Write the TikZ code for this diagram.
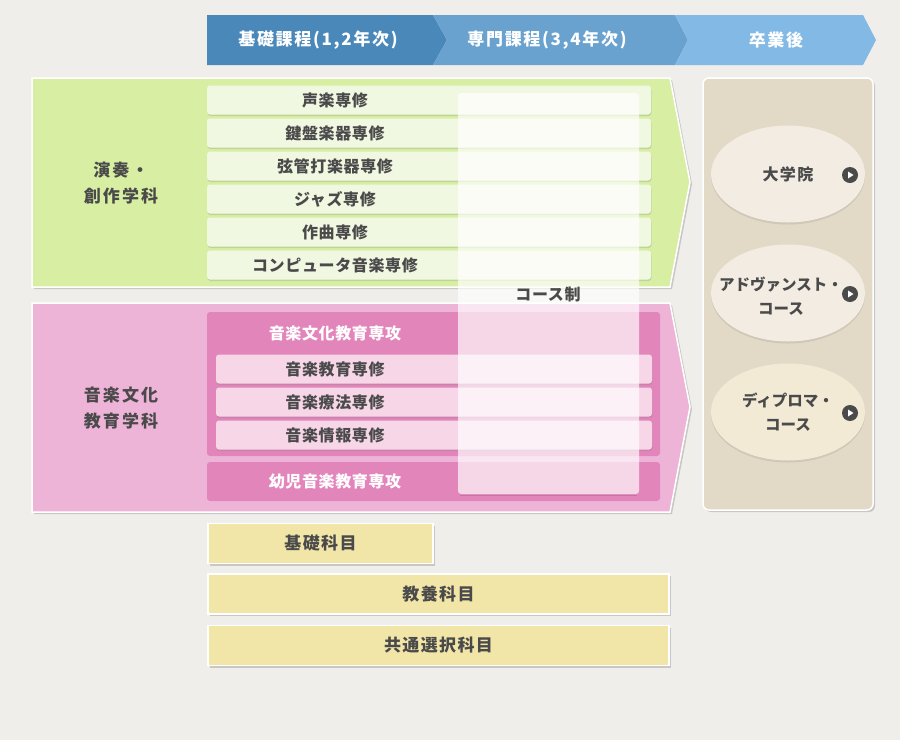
\documentclass[tikz,border=0pt]{standalone}
\usepackage{fontspec}
\setmainfont{Noto Sans CJK JP}
\usetikzlibrary{shadows,shapes.geometric}
\definecolor{bgc}{HTML}{EFEEEA}
\definecolor{hdA}{HTML}{4A88BA}
\definecolor{hdB}{HTML}{6AA2CF}
\definecolor{hdC}{HTML}{83B9E5}
\definecolor{grnpanel}{HTML}{D8EFA3}
\definecolor{grnrow}{HTML}{F1F8E2}
\definecolor{pnkpanel}{HTML}{EEB4D8}
\definecolor{pnkdark}{HTML}{E285BA}
\definecolor{pnkrow}{HTML}{F7D6E8}
\definecolor{tanpanel}{HTML}{E3D9C7}
\definecolor{ovalA}{HTML}{F2ECE2}
\definecolor{ovalB}{HTML}{F3EAD6}
\definecolor{subj}{HTML}{F1E6A8}
\definecolor{txtc}{HTML}{4A4A4A}
\begin{document}
\begin{tikzpicture}[x=1pt,y=-1pt,
  every node/.style={text=txtc,inner sep=0pt},
  hdtxt/.style={text=white,font=\fontsize{17}{20}\selectfont\bfseries\addfontfeature{LetterSpace=10}},
  dept/.style={align=center,font=\fontsize{17}{26}\selectfont\bfseries\addfontfeature{LetterSpace=12}},
  rowtxt/.style={font=\fontsize{16}{19}\selectfont\bfseries\addfontfeature{LetterSpace=4}},
  grnbox/.style={fill=grnrow,rounded corners=3,minimum width=444,minimum height=29,
    drop shadow={shadow xshift=0.5pt,shadow yshift=-1.5pt,opacity=0.25}},
  pnkbox/.style={fill=pnkrow,rounded corners=3,minimum width=436,minimum height=29,
    drop shadow={shadow xshift=0.5pt,shadow yshift=-1.5pt,opacity=0.25}},
  panel/.style={draw=white,line width=1.5pt,drop shadow={shadow xshift=2pt,shadow yshift=-2pt,opacity=0.35}},
  oval/.style={ellipse,minimum width=154,minimum height=97,
    drop shadow={shadow xshift=0pt,shadow yshift=-2pt,opacity=0.2}},
  ovaltxt/.style={align=center,font=\fontsize{15.5}{24}\selectfont\bfseries},
  playbtn/.style={circle,fill=txtc,minimum size=16},
  subjbox/.style={draw=white,line width=1.5pt,fill=subj,minimum height=40,
    font=\fontsize{17}{20}\selectfont\bfseries\addfontfeature{LetterSpace=8},
    drop shadow={shadow xshift=2pt,shadow yshift=-2pt,opacity=0.35}}]
\useasboundingbox[fill=bgc] (0,0) rectangle (900,740);
% header chevrons
\fill[hdA] (207,15) -- (433,15) -- (447,40) -- (433,65) -- (207,65) -- cycle;
\fill[hdB] (433,15) -- (675,15) -- (688,40) -- (675,65) -- (433,65) -- (447,40) -- cycle;
\fill[hdC] (675,15) -- (863,15) -- (876,40) -- (863,65) -- (675,65) -- (688,40) -- cycle;
\node[hdtxt] (kiso) at (318,40) {基礎課程(1,2年次)};
\node[hdtxt] (senmon) at (547,40) {専門課程(3,4年次)};
\node[hdtxt] (sotsu) at (776,40) {卒業後};
% green department
\path[panel,fill=grnpanel] (32,78) -- (670,78) -- (690,182) -- (670,287) -- (32,287) -- cycle;
\node[dept] (ensou) at (121,183) {演奏・\\創作学科};
\foreach \t [count=\i] in {声楽専修,鍵盤楽器専修,弦管打楽器専修,ジャズ専修,作曲専修,コンピュータ音楽専修}{
  \node[grnbox] (g\i) at (429,{67+33*\i}) {};
  \node[rowtxt] (gt\i) at (335,{67+33*\i}) {\t};
}
% pink department
\path[panel,fill=pnkpanel] (32,303) -- (670,303) -- (690,407) -- (670,512) -- (32,512) -- cycle;
\node[dept] (ongaku) at (121,408) {音楽文化\\教育学科};
\fill[pnkdark,rounded corners=3] (207,312) rectangle (660,456);
\node[rowtxt,text=white] (bunka) at (335,333) {音楽文化教育専攻};
\foreach \t [count=\i] in {音楽教育専修,音楽療法専修,音楽情報専修}{
  \node[pnkbox] (p\i) at (434,{336+33*\i}) {};
  \node[rowtxt] (pt\i) at (335,{336+33*\i}) {\t};
}
\fill[pnkdark,rounded corners=3] (207,462) rectangle (660,501);
\node[rowtxt,text=white] (youji) at (335,481) {幼児音楽教育専攻};
% course overlay
\fill[white,opacity=0.68,rounded corners=3] (458,93) rectangle (639,494);
\draw[black,opacity=0.12,line width=1pt] (460,495) -- (637,495);
\node[rowtxt] (course) at (548,294) {コース制};
% after graduation
\path[panel,fill=tanpanel,rounded corners=6] (703,78) rectangle (873,510);
\node[oval,fill=ovalA] (daigakuin) at (788,174) {};
\node[oval,fill=ovalA] (advanced) at (788,293) {};
\node[oval,fill=ovalB] (diploma) at (788,412) {};
\node[ovaltxt,font=\fontsize{16}{24}\selectfont\bfseries\addfontfeature{LetterSpace=8}] at (788,174) {大学院};
\node[ovaltxt] at (781,296) {アドヴァンスト・\\コース};
\node[ovaltxt] at (788,412) {ディプロマ・\\コース};
\foreach \y [count=\i] in {175,294,413}{
  \node[playbtn] (btn\i) at (850,\y) {};
  \fill[white] (btn\i) ++(-2,-3.5) -- ++(0,7) -- ++(5.5,-3.5) -- cycle;
}
% common subjects
\node[subjbox,minimum width=225] (kisokamoku) at (320.5,543.5) {基礎科目};
\node[subjbox,minimum width=461] (kyouyou) at (438.5,594) {教養科目};
\node[subjbox,minimum width=461] (kyoutsuu) at (438.5,645.5) {共通選択科目};
\end{tikzpicture}
\end{document}
